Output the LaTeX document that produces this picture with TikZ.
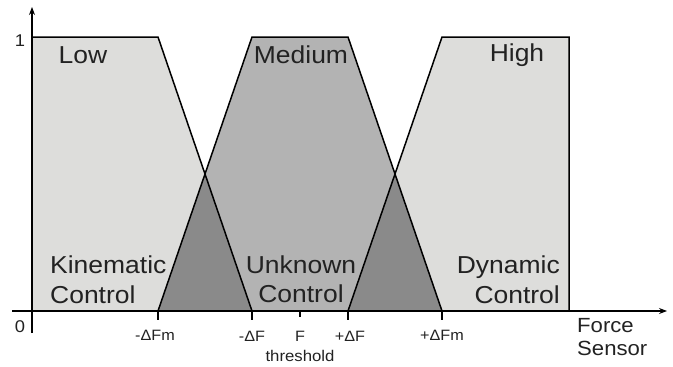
\documentclass[tikz,border=0pt]{standalone}
\usepackage{fontspec}
\setmainfont[FakeStretch=1.08]{Liberation Sans}
\usetikzlibrary{arrows.meta}
\definecolor{lightfill}{HTML}{DDDDDB}
\definecolor{midfill}{HTML}{B3B3B3}
\definecolor{darkfill}{HTML}{8A8A8A}
\definecolor{txt}{HTML}{222222}
\tikzset{
  setline/.style={line width=1.5pt, black, line join=miter},
  axisline/.style={line width=1.1pt, black, -{Stealth[length=8pt,width=6pt]}},
  tickline/.style={line width=1.1pt, black},
  biglabel/.style={font=\fontsize{24.5}{30}\selectfont, text=txt, inner sep=0pt},
  ticklabel/.style={font=\fontsize{15}{18}\selectfont, text=txt, inner sep=0pt, anchor=base},
  numlabel/.style={font=\fontsize{17}{20}\selectfont, text=txt, inner sep=0pt, anchor=base}
}
\begin{document}
\begin{tikzpicture}[x=1pt,y=-1pt]
\useasboundingbox (0,0) rectangle (673,367);
% key points
\coordinate (o) at (32,311);
\coordinate (lowtl) at (32,37);
\coordinate (lowtr) at (158,37);
\coordinate (mfm) at (158,311);
\coordinate (mf) at (252,311);
\coordinate (medtl) at (252,37);
\coordinate (medtr) at (348,37);
\coordinate (pf) at (348,311);
\coordinate (pfm) at (442,311);
\coordinate (hightl) at (442,37);
\coordinate (hightr) at (569,37);
\coordinate (highbr) at (569,311);
\coordinate (xl) at (205,174);
\coordinate (xr) at (395,174);
\coordinate (fth) at (300,311);
% fills
\fill[lightfill] (o) -- (lowtl) -- (lowtr) -- (mf) -- cycle;
\fill[lightfill] (pf) -- (hightl) -- (hightr) -- (highbr) -- cycle;
\fill[midfill] (mfm) -- (medtl) -- (medtr) -- (pfm) -- cycle;
\fill[darkfill] (mfm) -- (xl) -- (mf) -- cycle;
\fill[darkfill] (pf) -- (xr) -- (pfm) -- cycle;
% outlines
\draw[setline] (lowtl) -- (lowtr) -- (mf);
\draw[setline] (mfm) -- (medtl) -- (medtr) -- (pfm);
\draw[setline] (pf) -- (hightl) -- (hightr) -- (highbr);
% axes
\coordinate (ybot) at (32,333);
\coordinate (ytop) at (32,7);
\coordinate (xleft) at (12,311);
\coordinate (xright) at (667,311);
\draw[axisline] (ybot) -- (ytop);
\draw[axisline] (xleft) -- (xright);
% ticks
\foreach \n/\xx/\len in {t1/158/9, t2/252/9, t3/300/6, t4/348/9, t5/442/9}{
  \coordinate (\n a) at (\xx,311);
  \coordinate (\n b) at (\xx,311+\len);
  \draw[tickline] (\n a) -- (\n b);
}
% labels
\node[numlabel] (one) at (20,46) {1};
\node[numlabel] (zero) at (20,332) {0};
\node[biglabel, anchor=base] (low) at (83,63) {Low};
\node[biglabel, anchor=base] (medium) at (301,63) {Medium};
\node[biglabel, anchor=base] (high) at (517,61) {High};
\node[biglabel, anchor=base west] (kin1) at (50,273) {Kinematic};
\node[biglabel, anchor=base west] (kin2) at (50,303) {Control};
\node[biglabel, anchor=base] (unk1) at (301,273) {Unknown};
\node[biglabel, anchor=base] (unk2) at (301,302) {Control};
\node[biglabel, anchor=base east] (dyn1) at (560,273) {Dynamic};
\node[biglabel, anchor=base east] (dyn2) at (560,303) {Control};
\node[ticklabel] (lfm) at (155,340) {-ΔFm};
\node[ticklabel] (lf) at (252,341) {-ΔF};
\node[ticklabel] (lfc) at (300,341) {F};
\node[ticklabel] (lpf) at (350,341) {+ΔF};
\node[ticklabel] (lpfm) at (442,340) {+ΔFm};
\node[ticklabel, font=\fontsize{15.5}{18}\selectfont] (thr) at (300,361) {threshold};
\node[font=\fontsize{20.5}{24}\selectfont, text=txt, inner sep=0pt, anchor=base west] (force) at (577,332) {Force};
\node[font=\fontsize{20.5}{24}\selectfont, text=txt, inner sep=0pt, anchor=base west] (sensor) at (577,355) {Sensor};
\end{tikzpicture}
\end{document}
